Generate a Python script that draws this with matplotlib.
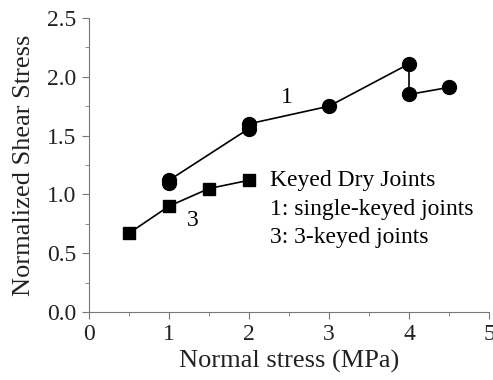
import matplotlib.pyplot as plt
from matplotlib.ticker import MultipleLocator

plt.rcParams['font.family'] = ['Liberation Serif', 'DejaVu Serif']

# single-keyed joints
x1 = [1, 1, 2, 2, 3, 4, 4, 4.5]
y1 = [1.10, 1.12, 1.56, 1.60, 1.75, 2.11, 1.85, 1.91]

# 3-keyed joints
x3 = [0.5, 1, 1.5, 2]
y3 = [0.67, 0.90, 1.05, 1.12]

legend_lines = ['Keyed Dry Joints', '1: single-keyed joints', '3: 3-keyed joints']

fig = plt.figure(figsize=(4.93, 3.80), dpi=100)
ax = fig.add_axes([89 / 493, 68 / 380, 400 / 493, 294 / 380])

ax.plot(x1, y1, 'k-', marker='o', markersize=10, linewidth=1.2)
ax.plot(x3, y3, 'k-', marker='s', markersize=9, linewidth=1.2)

ax.text(2.47, 1.82, '1', fontsize=17, ha='center', va='center')
ax.text(1.30, 0.78, '3', fontsize=17, ha='center', va='center')
for i, line in enumerate(legend_lines):
    ax.text(2.26, 1.12 - i * 0.245, line, fontsize=17, va='center')

ax.set_xlim(0, 5)
ax.set_ylim(0, 2.5)
ax.xaxis.set_major_locator(MultipleLocator(1))
ax.xaxis.set_minor_locator(MultipleLocator(0.5))
ax.yaxis.set_major_locator(MultipleLocator(0.5))
ax.yaxis.set_minor_locator(MultipleLocator(0.25))
ax.yaxis.set_major_formatter(plt.FormatStrFormatter('%.1f'))

for side in ['top', 'right']:
    ax.spines[side].set_visible(False)
for side in ['left', 'bottom']:
    ax.spines[side].set_color('#777777')
ax.tick_params(which='both', direction='out', color='#777777', labelsize=17, labelcolor='#222222')
ax.tick_params(which='major', length=5, pad=4)
ax.tick_params(which='minor', length=3)

ax.set_xlabel('Normal stress (MPa)', fontsize=19, color='#222222', labelpad=3)
ax.set_ylabel('Normalized Shear Stress', fontsize=19, color='#222222', labelpad=9)

fig.savefig('out.png', dpi=100)
